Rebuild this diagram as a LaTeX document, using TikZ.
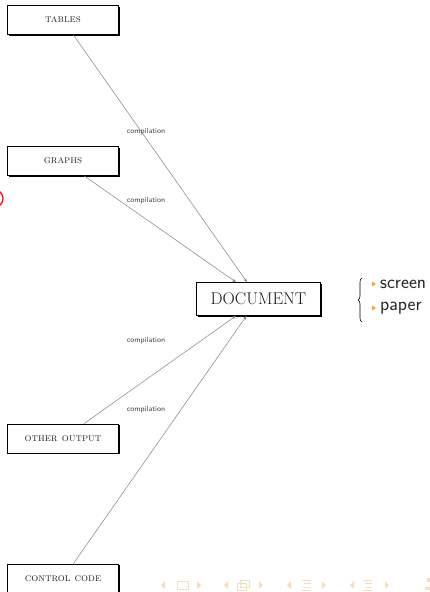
\documentclass[tikz,border=0pt]{standalone}
\usetikzlibrary{shadows,arrows.meta,decorations.pathreplacing,calc}
\definecolor{bulletorange}{RGB}{240,165,60}
\definecolor{navc}{RGB}{245,222,190}
\definecolor{lineg}{RGB}{130,130,130}
\begin{document}
\begin{tikzpicture}[x=1pt,y=-1pt,
  box/.style={draw=black,line width=0.7pt,fill=white,minimum width=111pt,minimum height=29pt,inner sep=0pt,
    font=\fontsize{11}{12}\selectfont\scshape,text=black!85,
    drop shadow={shadow xshift=1.3pt,shadow yshift=-1.3pt,fill=black,opacity=1}},
  docbox/.style={draw=black,line width=0.7pt,fill=white,minimum width=124pt,minimum height=33pt,inner sep=0pt,
    font=\fontsize{17}{18}\selectfont,text=black!90,
    drop shadow={shadow xshift=1.3pt,shadow yshift=-1.3pt,fill=black,opacity=1}},
  lab/.style={font=\fontsize{7.5}{8}\selectfont\sffamily,text=black!75,inner sep=0pt},
  conn/.style={draw=lineg,line width=0.5pt,-{Stealth[length=4pt,width=3pt]}},
  item/.style={font=\fontsize{19}{20}\selectfont\sffamily,text=black!85,anchor=west,inner sep=0pt},
  nav/.style={fill=navc,draw=none}
]
\useasboundingbox (0,0) rectangle (430,592);

\node[box] (tables) at (63,20) {tables};
\node[box] (graphs) at (63,161) {graphs};
\node[box] (other) at (63,438.5) {other output};
\node[box] (control) at (63,578.5) {control code};
\node[docbox] (doc) at (258.5,299) {DOCUMENT};

\coordinate (d1) at ($(doc.north)+(-11.5,0)$);
\coordinate (d2) at ($(doc.north)+(-22.5,0)$);
\coordinate (d3) at ($(doc.south)+(-22.5,0)$);
\coordinate (d4) at ($(doc.south)+(-12,0)$);

\draw[conn] (tables) -- (d1);
\draw[conn] (graphs) -- (d2);
\draw[conn] (other) -- (d3);
\draw[conn] (control) -- (d4);

\node[lab] (l1) at (146,132) {compilation};
\node[lab] (l2) at (146,201) {compilation};
\node[lab] (l3) at (146,341) {compilation};
\node[lab] (l4) at (146,410) {compilation};

% brace and items
\coordinate (bb) at (362,322);
\coordinate (bt) at (362,278);
\draw[line width=0.6pt,decorate,decoration={brace,amplitude=4pt}] (bb) -- (bt);
\fill[bulletorange] (372,281.5) -- (376,284) -- (372,286.5) -- cycle;
\fill[bulletorange] (372,305.5) -- (376,308) -- (372,310.5) -- cycle;
\node[item] (screen) at (380,284) {screen};
\node[item] (paper) at (380,308) {paper};

% red mark at left edge
\draw[red,line width=1.2pt] (-6,198.5) circle (9pt);

% navigation symbols
\foreach \a/\b in {162/200,225/262,288/325,351/388}{
  \fill[nav] (\a+3,581) -- (\a-1,585) -- (\a+3,589) -- cycle;
  \fill[nav] (\b-3,581) -- (\b+1,585) -- (\b-3,589) -- cycle;
}
\draw[navc,line width=0.9pt] (177,581) rectangle (188,589);
\draw[navc,line width=0.9pt] (237,583) rectangle (246,590);
\draw[navc,line width=0.9pt] (240,580) rectangle (249,587);
\foreach \c in {307,368}{
  \draw[navc,line width=0.9pt] (\c-5,580) -- (\c+4,580);
  \draw[navc,line width=0.9pt] (\c-3,583.5) -- (\c+4,583.5);
  \draw[navc,line width=0.9pt] (\c-3,587) -- (\c+4,587);
  \draw[navc,line width=0.9pt] (\c-5,590) -- (\c+4,590);
}
\fill[nav] (427,578) rectangle (430,582);
\fill[nav] (425,587) rectangle (430,590);
\end{tikzpicture}
\end{document}
